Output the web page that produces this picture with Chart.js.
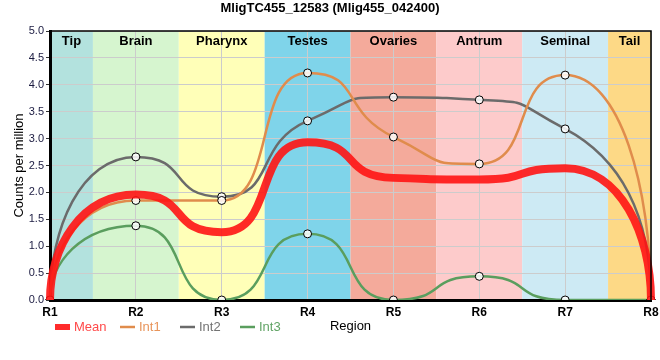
<!DOCTYPE html>
<html>
<head>
<meta charset="utf-8">
<script src="https://cdn.jsdelivr.net/npm/chart.js@4/dist/chart.umd.min.js"></script>
<style>
html,body{margin:0;padding:0;background:#fff;}
#wrap{width:660px;height:360px;position:relative;}
</style>
</head>
<body>
<div id="wrap"><canvas id="c" width="660" height="360"></canvas></div>
<script>
const categories = ['R1','R2','R3','R4','R5','R6','R7','R8'];
const meanVals = [0, 1.96, 1.26, 2.93, 2.27, 2.24, 2.45, 0];
const int1Vals = [0, 1.85, 1.85, 4.22, 3.03, 2.53, 4.18, 0];
const int2Vals = [0, 2.66, 1.92, 3.33, 3.77, 3.72, 3.18, 0];
const int3Vals = [0, 1.38, 0, 1.23, 0, 0.44, 0, 0];

const regionNames = ['Tip','Brain','Pharynx','Testes','Ovaries','Antrum','Seminal','Tail'];
const regionFrom = [0, 0.5, 1.5, 2.5, 3.5, 4.5, 5.5, 6.5];
const regionTo   = [0.5, 1.5, 2.5, 3.5, 4.5, 5.5, 6.5, 7];
const regionColors = ['#b3e2de','#d6f5cf','#ffffb8','#7fd4ea','#f4aa9b','#fdcbcb','#cdeaf4','#fdd986'];

const yTicks = [0,0.5,1,1.5,2,2.5,3,3.5,4,4.5,5];

const seriesNames = ['Mean','Int1','Int2','Int3'];
const seriesColors = ['rgba(255,20,20,0.9)','#e08c4c','#6b6b6b','#5a9e5e'];
const legendTextColors = ['#ff4a4a','#e8945a','#737373','#62a466'];

const FONT = '"Liberation Sans", Arial, sans-serif';
const HANDLE = 0.64;   // relative length of interior bezier handles
const END_HANDLE = 0.5; // vertical handle at the first/last point

const curvePlugin = {
  id: 'curves',
  beforeDatasetDraw(chart, args) {
    const meta = args.meta;
    const line = meta.dataset;
    if (line && line.updateControlPoints) line.updateControlPoints(chart.chartArea, 'x');
    const pts = meta.data;
    const n = pts.length;
    for (let i = 0; i < n; i++) {
      const p = pts[i];
      if (i === 0) {
        const q = pts[1];
        p.cp1x = p.x; p.cp1y = p.y;
        p.cp2x = p.x; p.cp2y = p.y + END_HANDLE * (q.y - p.y);
        continue;
      }
      if (i === n - 1) {
        const q = pts[n - 2];
        p.cp1x = p.x; p.cp1y = p.y + END_HANDLE * (q.y - p.y);
        p.cp2x = p.x; p.cp2y = p.y;
        continue;
      }
      const l = pts[i - 1], r = pts[i + 1];
      const dl = p.y - l.y, dr = r.y - p.y;
      const hl = HANDLE * (p.x - l.x), hr = HANDLE * (r.x - p.x);
      let m = 0;
      if (dl * dr > 0) {
        m = (dl / (p.x - l.x) + dr / (r.x - p.x)) / 2;
        const lim = Math.min(Math.abs(dl) / hl, Math.abs(dr) / hr);
        if (Math.abs(m) > lim) m = Math.sign(m) * lim;
      }
      p.cp1x = p.x - hl; p.cp1y = p.y - m * hl;
      p.cp2x = p.x + hr; p.cp2y = p.y + m * hr;
    }
  }
};

const regionPlugin = {
  id: 'regions',
  beforeDraw(chart) {
    const {ctx, chartArea: a, scales: {x}} = chart;
    ctx.save();
    for (let i = 0; i < regionNames.length; i++) {
      const x0 = x.getPixelForValue(regionFrom[i]);
      const x1 = x.getPixelForValue(regionTo[i]);
      ctx.fillStyle = regionColors[i];
      ctx.fillRect(x0, a.top, x1 - x0, a.bottom - a.top);
    }
    ctx.restore();
  },
  beforeDatasetsDraw(chart) {
    const {ctx, chartArea: a, scales: {x}} = chart;
    ctx.save();
    ctx.font = 'bold 13px ' + FONT;
    ctx.fillStyle = '#000';
    ctx.textAlign = 'center';
    ctx.textBaseline = 'middle';
    for (let i = 0; i < regionNames.length; i++) {
      const xc = (x.getPixelForValue(regionFrom[i]) + x.getPixelForValue(regionTo[i])) / 2;
      ctx.fillText(regionNames[i], xc, a.top + 10);
    }
    ctx.restore();
  },
  afterDraw(chart) {
    const {ctx, chartArea: a} = chart;
    ctx.save();
    ctx.strokeStyle = '#000';
    ctx.lineWidth = 1.5;
    ctx.beginPath();
    ctx.moveTo(a.left, a.top);
    ctx.lineTo(a.right, a.top);
    ctx.lineTo(a.right, a.bottom);
    ctx.stroke();
    // legend row
    const y = 327;
    const legendX = [55, 120, 180, 240];
    ctx.font = '13px ' + FONT;
    ctx.textBaseline = 'middle';
    ctx.textAlign = 'left';
    for (let i = 0; i < seriesNames.length; i++) {
      const xs = legendX[i];
      ctx.strokeStyle = seriesColors[i];
      ctx.lineWidth = i === 0 ? 6 : 2.5;
      ctx.beginPath();
      ctx.moveTo(xs, y);
      ctx.lineTo(xs + 15, y);
      ctx.stroke();
      ctx.fillStyle = legendTextColors[i];
      ctx.fillText(seriesNames[i], xs + 19, y);
    }
    ctx.restore();
  }
};

const vals = [meanVals, int1Vals, int2Vals, int3Vals];
const datasets = seriesNames.map((n, i) => ({
  label: n,
  data: vals[i],
  borderColor: seriesColors[i],
  backgroundColor: seriesColors[i],
  borderWidth: i === 0 ? 8 : 2.5,
  cubicInterpolationMode: 'monotone',
  pointRadius: i === 0 ? 0 : 4,
  pointHoverRadius: 0,
  pointBackgroundColor: 'rgba(255,255,255,0.85)',
  pointBorderColor: '#000',
  pointBorderWidth: 1,
  fill: false,
  order: i
}));

new Chart(document.getElementById('c'), {
  type: 'line',
  data: { labels: categories, datasets },
  options: {
    responsive: false,
    animation: false,
    layout: { padding: { left: 0, right: 0, top: 0, bottom: 0 } },
    plugins: {
      legend: { display: false },
      tooltip: { enabled: false },
      title: {
        display: true,
        text: 'MligTC455_12583 (Mlig455_042400)',
        color: '#000',
        font: { family: FONT, size: 13, weight: 'bold', lineHeight: 1.2 },
        padding: { top: 1, bottom: 14.4 }
      }
    },
    scales: {
      x: {
        type: 'category',
        offset: false,
        grid: { color: '#cccccc', lineWidth: 1, tickLength: 0, drawTicks: false },
        border: { color: '#000', width: 3 },
        ticks: { color: '#000', padding: 5, font: { family: FONT, size: 12, weight: 'bold' }, maxRotation: 0, autoSkip: false },
        title: { display: true, text: 'Region', color: '#000', font: { family: FONT, size: 13 }, padding: { top: 0, bottom: 26 } },
        afterFit(s) { s.height = 60; s.paddingRight = 9; s.paddingLeft = 0; }
      },
      y: {
        type: 'linear',
        min: 0, max: 5,
        afterBuildTicks(s) { s.ticks = yTicks.map(v => ({ value: v })); },
        grid: { color: '#cccccc', lineWidth: 1, tickLength: 4, tickColor: '#333' },
        border: { color: '#000', width: 3 },
        ticks: { color: '#1a1a40', padding: 2, font: { family: FONT, size: 11 }, callback: v => Number(v).toFixed(1) },
        title: { display: true, text: 'Counts per million', color: '#000', font: { family: FONT, size: 13 }, padding: { top: 12, bottom: 0 } },
        afterFit(s) { s.width = 50; }
      }
    }
  },
  plugins: [regionPlugin, curvePlugin]
});
</script>
</body>
</html>
